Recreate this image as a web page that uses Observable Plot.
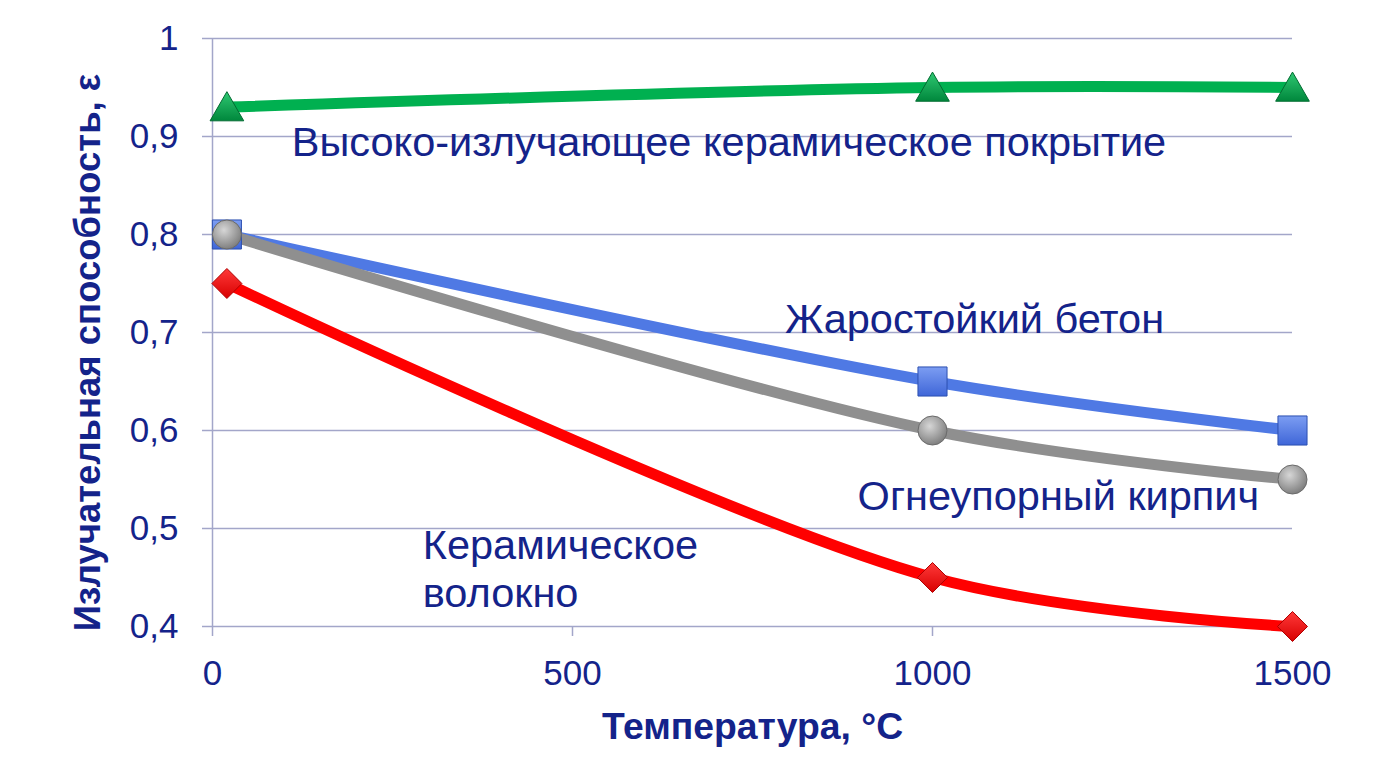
<!DOCTYPE html>
<html><head><meta charset="utf-8">
<script src="https://cdn.jsdelivr.net/npm/d3@7"></script>
<script src="https://cdn.jsdelivr.net/npm/@observablehq/plot@0.6"></script>
<style>body{margin:0;background:#fff;}</style>
</head><body><div id="chart"></div>
<script>
// ---- data ----
const temperatures = [20, 1000, 1500];
const coating  = [0.93, 0.95, 0.95];
const concrete = [0.80, 0.65, 0.60];
const brick    = [0.80, 0.60, 0.55];
const fiber    = [0.75, 0.45, 0.40];
const seriesNames = [
  "Высоко-излучающее керамическое покрытие",
  "Жаростойкий бетон",
  "Огнеупорный кирпич",
  "Керамическое\nволокно"
];
const xTicks = [0, 500, 1000, 1500];
const yTicks = [0.4, 0.5, 0.6, 0.7, 0.8, 0.9, 1];
const xLabel = "Температура, °C";
const yLabel = "Излучательная способность, ε";
// annotation anchors (data units: °C, emissivity)
const labelX = [110, 795, 896, 292];
const labelY = [0.88, 0.70, 0.5186, 0.4197];

// ---- styling ----
const textColor = "#14238a";
const gridColor = "#a3a6c9";
const font = "'Liberation Sans', Arial, sans-serif";
const series = [
  {values: coating,  color: "#00b050", symbol: "triangle", r: 12.5, fill: "url(#gGreen)", edge: "#006b30", dy: 4},
  {values: concrete, color: "#4f79e4", symbol: "square",   r: 16.4, fill: "url(#gBlue)",  edge: "#2c4fb0", dy: 0},
  {values: brick,    color: "#8f8f8f", symbol: "circle",   r: 14.5, fill: "url(#gGray)",  edge: "#6a6a6a", dy: 0},
  {values: fiber,    color: "#ff0000", symbol: "diamond2", r: 13.5, fill: "url(#gRed)",   edge: "#b00000", dy: 0}
];
const rowsOf = (s) => temperatures.map((t, i) => ({t, v: s.values[i]}));
const labels = seriesNames.map((name, i) => ({name, x: labelX[i], y: labelY[i]}));

const chart = Plot.plot({
  width: 1384,
  height: 781,
  marginTop: 38,
  marginRight: 92,
  marginBottom: 155,
  marginLeft: 212,
  style: {fontFamily: font, background: "#fff"},
  x: {domain: [0, 1500]},
  y: {domain: [0.4, 1]},
  marks: [
    Plot.ruleY(yTicks, {stroke: gridColor, strokeWidth: 1.5}),
    Plot.ruleX([0], {stroke: gridColor, strokeWidth: 1.5}),
    Plot.axisY({ticks: yTicks, tickSize: 10, tickPadding: 24, tickFormat: d => String(d).replace(".", ","),
      stroke: gridColor, strokeWidth: 1.5, fill: textColor, fontSize: 35, label: null}),
    Plot.axisX({ticks: xTicks, tickSize: 10, tickPadding: 24, tickFormat: d => String(d),
      stroke: gridColor, strokeWidth: 1.5, fill: textColor, fontSize: 35, label: null}),
    ...series.map(s => Plot.line(rowsOf(s), {x: "t", y: "v", stroke: s.color, strokeWidth: 11, curve: "catmull-rom"})),
    ...series.map(s => Plot.dot(rowsOf(s), {x: "t", y: "v", symbol: s.symbol, r: s.r, fill: s.fill, stroke: s.edge, strokeWidth: 1, dy: s.dy})),
    Plot.text(labels, {x: "x", y: "y", text: "name", textAnchor: "start", lineAnchor: "bottom",
      fontSize: 41.5, fill: textColor, lineHeight: 1.15}),
    Plot.text([xLabel], {frameAnchor: "bottom", dy: 112, lineAnchor: "bottom", fontSize: 37.3, fontWeight: "bold", fill: textColor}),
    Plot.text([yLabel], {frameAnchor: "left", rotate: -90, dx: -113, dy: 20, lineAnchor: "bottom", textAnchor: "middle",
      fontSize: 36.5, fontWeight: "bold", fill: textColor})
  ]
});

// gradients for the bevelled markers
const defs = d3.select(chart).insert("defs", ":first-child");
function lin(id, c1, c2) {
  const g = defs.append("linearGradient").attr("id", id).attr("x1", 0).attr("y1", 0).attr("x2", 0).attr("y2", 1);
  g.append("stop").attr("offset", "0%").attr("stop-color", c1);
  g.append("stop").attr("offset", "100%").attr("stop-color", c2);
}
lin("gGreen", "#2fc872", "#00873c");
lin("gBlue", "#7c9df2", "#3f66d8");
lin("gRed", "#ff3a3a", "#d80000");
const rg = defs.append("radialGradient").attr("id", "gGray").attr("cx", "40%").attr("cy", "35%").attr("r", "65%");
rg.append("stop").attr("offset", "0%").attr("stop-color", "#d6d6d6");
rg.append("stop").attr("offset", "100%").attr("stop-color", "#808080");

document.getElementById("chart").append(chart);
</script>
</body></html>
